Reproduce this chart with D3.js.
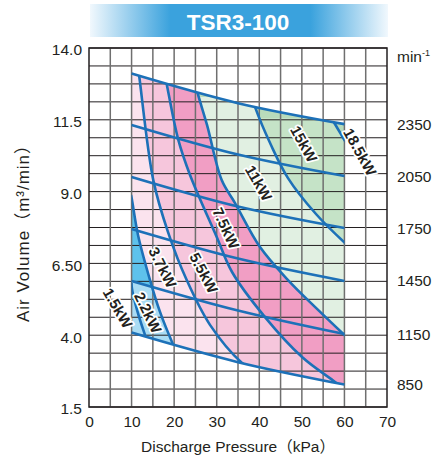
<!DOCTYPE html>
<html>
<head>
<meta charset="utf-8">
<script src="https://cdn.jsdelivr.net/npm/d3@7"></script>
<style>
  body { margin: 0; background: #fff; }
  svg { display: block; font-family: "Liberation Sans", Arial, "Noto Sans CJK JP", sans-serif; }
</style>
</head>
<body>
<div id="chart"></div>
<script>
// TSR3-100 blower performance chart

const pressureTicks = [0, 10, 20, 30, 40, 50, 60, 70];
const flowTicks = [14.0, 11.5, 9.0, 6.5, 4.0, 1.5];
const flowTickLabels = ["14.0", "11.5", "9.0", "6.50", "4.0", "1.5"];

// constant speed lines (min-1), flow read at 10, 35 and 60 kPa
const speeds = [2350, 2050, 1750, 1450, 1150, 850];
const speedPressures = [10, 35, 60];
const speedFlows = [
  [13.11, 12.08, 11.35],
  [11.32, 10.29, 9.54],
  [9.51, 8.48, 7.73],
  [7.70, 6.67, 5.89],
  [5.89, 4.86, 4.04],
  [4.09, 3.06, 2.28],
];

// motor ratings, one coloured region each
const motorRatings = ["1.5kW", "2.2kW", "3.7kW", "5.5kW", "7.5kW", "11kW", "15kW", "18.5kW"];
const regionColors = ["#a9dcf4", "#5ec2ec", "#fbe3ee", "#f6c6dc", "#f19ec4", "#e1f0e2", "#c5e3c7", "#b8dbbb"];

// boundary between rating i and i+1, points as [kPa, m3/min]
const powerLines = [
  [[9.98, 5.82], [10.10, 5.61], [11.28, 4.88], [13.15, 4.01], [13.86, 3.73]],
  [[9.87, 8.88], [10.10, 8.71], [11.51, 7.49], [14.33, 5.92], [16.68, 4.81], [19.80, 3.66], [20.91, 3.31]],
  [[11.28, 13.58], [11.82, 12.99], [15.10, 9.40], [18.56, 7.59], [22.95, 5.92], [28.42, 4.36], [35.87, 3.04], [39.0, 2.72]],
  [[17.62, 13.23], [18.25, 12.75], [20.98, 10.80], [23.73, 9.58], [30.0, 7.42], [33.6, 6.20], [41.34, 4.63], [50.04, 3.24], [57.79, 2.37], [60.14, 2.09]],
  [[24.90, 12.82], [25.44, 12.47], [27.72, 11.32], [31.17, 9.40], [34.30, 8.60], [40.17, 7.07], [46.75, 5.92], [53.32, 4.95], [59.97, 4.01], [61.78, 3.76]],
  [[38.29, 12.29], [38.99, 11.95], [42.75, 10.62], [46.74, 9.47], [53.32, 8.22], [60.14, 7.21], [61.78, 7.00]],
  [[56.85, 11.56], [57.62, 11.39], [59.97, 10.80], [60.84, 10.59]],
];

// where each rating label sits, [kPa, m3/min, rotation]
const labelAnchors = [
  [6.8, 4.95, 60], [13.9, 4.79, 64], [17.3, 6.36, 63], [27.0, 6.17, 62],
  [32.2, 7.73, 65], [39.9, 9.30, 60], [50.5, 10.66, 61], [63.7, 10.38, 61],
];

class PerformanceChart {
  constructor(container) {
    this.container = container;
    this.width = 433;
    this.height = 462;
    this.lineColor = "#1d71b8";
    this.textColor = "#231f20";
  }

  init() {
    this.svg = d3.select(this.container).append("svg")
      .attr("width", this.width)
      .attr("height", this.height);
    this.defs = this.svg.append("defs");

    this.x = d3.scaleLinear().domain([0, 70]).range([89, 387]);
    this.y = d3.scaleLinear().domain([1.5, 14]).range([407, 48]);
    this.line = d3.line()
      .x((d) => this.x(d[0]))
      .y((d) => this.y(d[1]))
      .curve(d3.curveCatmullRom);

    this.drawTitle();
    this.drawRegions();
    this.drawGrid();
    this.drawLines();
    this.drawAxes();
    this.drawLabels();
  }

  speedPoints(i) {
    return speedPressures.map((p, j) => [p, speedFlows[i][j]]);
  }

  // closed area under a curve, reaching down and to the left of the plot
  below(pts) {
    const last = pts[pts.length - 1];
    return `M${this.x(0)},${this.y(pts[0][1])}` +
      this.line(pts).replace(/^M/, "L") +
      `L${this.x(last[0])},${this.y(0)}L${this.x(0)},${this.y(0)}Z`;
  }

  drawTitle() {
    const grad = this.defs.append("linearGradient")
      .attr("id", "banner").attr("x1", "0").attr("x2", "1");
    [["0", "#f1f8fd"], ["0.27", "#3aa2dd"], ["0.74", "#3aa2dd"], ["1", "#f1f8fd"]]
      .forEach(([o, c]) => grad.append("stop").attr("offset", o).attr("stop-color", c));

    this.svg.append("rect")
      .attr("x", 90).attr("y", 4).attr("width", 298).attr("height", 33)
      .attr("fill", "url(#banner)");
    this.svg.append("text")
      .attr("x", 238).attr("y", 29.5)
      .attr("text-anchor", "middle")
      .attr("fill", "#fff")
      .attr("font-weight", "bold")
      .attr("font-size", 22.5)
      .text("TSR3-100");
  }

  drawRegions() {
    const top = this.speedPoints(0);
    const bottom = this.speedPoints(speeds.length - 1).reverse();
    const envelope = this.line(top) + this.line(bottom).replace(/^M/, "L") + "Z";

    this.defs.append("clipPath").attr("id", "envelope")
      .append("path").attr("d", envelope);
    this.defs.append("clipPath").attr("id", "left22")
      .append("path").attr("d", this.below(powerLines[1]));

    this.regions = this.svg.append("g").attr("clip-path", "url(#envelope)");
    this.regions.append("path")
      .attr("d", envelope)
      .attr("fill", regionColors[regionColors.length - 1]);

    // paint from the right-most boundary back to the left
    for (let i = powerLines.length - 1; i >= 0; i--) {
      this.regions.append("path")
        .attr("d", this.below(powerLines[i]))
        .attr("fill", regionColors[i]);
    }

    // under 1150 min-1 the small-motor band is the lighter blue
    this.regions.append("path")
      .attr("d", this.below(this.speedPoints(4)))
      .attr("clip-path", "url(#left22)")
      .attr("fill", regionColors[0]);
  }

  drawGrid() {
    const g = this.svg.append("g");
    const [x0, x1] = this.x.range();
    const [y0, y1] = this.y.range();

    g.selectAll("line.h")
      .data(d3.range(0, 21).map((i) => 1.5 + i * 0.625))
      .enter().append("line")
      .attr("x1", x0).attr("x2", x1)
      .attr("y1", (d) => this.y(d)).attr("y2", (d) => this.y(d))
      .attr("stroke", "#231f20").attr("stroke-width", 1);

    g.selectAll("line.v")
      .data(d3.range(5, 70, 5))
      .enter().append("line")
      .attr("x1", (d) => this.x(d)).attr("x2", (d) => this.x(d))
      .attr("y1", y0).attr("y2", y1)
      .attr("stroke", "#6f6f6f").attr("stroke-width", 1.5);

    g.append("rect")
      .attr("x", x0).attr("y", y1)
      .attr("width", x1 - x0).attr("height", y0 - y1)
      .attr("fill", "none")
      .attr("stroke", "#231f20").attr("stroke-width", 1.5);
  }

  drawLines() {
    const clipped = this.svg.append("g").attr("clip-path", "url(#envelope)");
    clipped.selectAll("path")
      .data(powerLines)
      .enter().append("path")
      .attr("d", (d) => this.line(d))
      .attr("fill", "none")
      .attr("stroke", this.lineColor)
      .attr("stroke-width", 2.6);

    this.svg.append("g").selectAll("path")
      .data(speeds.map((s, i) => this.speedPoints(i)))
      .enter().append("path")
      .attr("d", (d) => this.line(d))
      .attr("fill", "none")
      .attr("stroke", this.lineColor)
      .attr("stroke-width", 2.6);
  }

  drawAxes() {
    const fontSize = 15.5;
    const style = (sel) => {
      sel.select(".domain").remove();
      sel.selectAll("text")
        .attr("font-size", fontSize)
        .attr("fill", this.textColor)
        .attr("font-family", null);
    };

    this.svg.append("g")
      .attr("transform", `translate(${this.x(0)},0)`)
      .call(d3.axisLeft(this.y).tickValues(flowTicks).tickSize(0).tickPadding(7)
        .tickFormat((d, i) => flowTickLabels[i]))
      .call(style)
      .selectAll("text").attr("dy", "0.45em");

    this.svg.append("g")
      .attr("transform", `translate(0,${this.y(1.5)})`)
      .call(d3.axisBottom(this.x).tickValues(pressureTicks).tickSize(0).tickPadding(9))
      .call(style);

    const rpm = d3.scaleLinear()
      .domain(speeds)
      .range(speedFlows.map((f) => this.y(f[f.length - 1])));
    this.svg.append("g")
      .attr("transform", `translate(${this.x(70)},0)`)
      .call(d3.axisRight(rpm).tickValues(speeds).tickSize(0).tickPadding(10)
        .tickFormat(d3.format("d")))
      .call(style);

    const unit = this.svg.append("text")
      .attr("x", 397).attr("y", 61.5)
      .attr("font-size", fontSize)
      .attr("fill", this.textColor)
      .text("min");
    unit.append("tspan").attr("font-size", 9).attr("dy", -6).text("-1");

    this.svg.append("text")
      .attr("x", 238).attr("y", 452)
      .attr("text-anchor", "middle")
      .attr("font-size", fontSize)
      .attr("fill", this.textColor)
      .text("Discharge Pressure（kPa）");

    this.svg.append("text")
      .attr("transform", `translate(29,229) rotate(-90)`)
      .attr("text-anchor", "middle")
      .attr("font-size", 17)
      .attr("letter-spacing", 1)
      .attr("fill", this.textColor)
      .text("Air Volume（m³/min）");
  }

  drawLabels() {
    this.svg.append("g").selectAll("text")
      .data(motorRatings)
      .enter().append("text")
      .attr("transform", (d, i) => {
        const [p, f, a] = labelAnchors[i];
        return `translate(${this.x(p)},${this.y(f)}) rotate(${a})`;
      })
      .attr("text-anchor", "middle")
      .attr("dominant-baseline", "central")
      .attr("font-size", 15)
      .attr("font-weight", "bold")
      .attr("fill", this.textColor)
      .attr("stroke", "#fff")
      .attr("stroke-width", 3.5)
      .attr("stroke-linejoin", "round")
      .attr("paint-order", "stroke")
      .text((d) => d);
  }
}

document.addEventListener("DOMContentLoaded", () => {
  const chart = new PerformanceChart(document.getElementById("chart"));
  chart.init();
});
</script>
</body>
</html>
